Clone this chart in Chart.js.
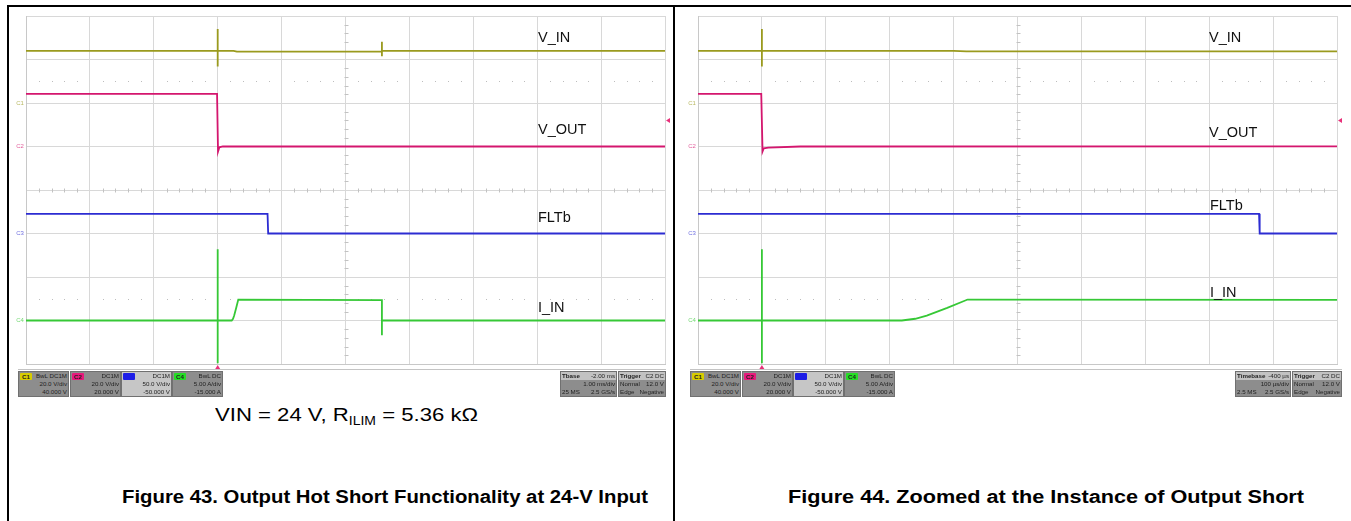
<!DOCTYPE html>
<html><head><meta charset="utf-8">
<script src="https://cdn.jsdelivr.net/npm/chart.js@4/dist/chart.umd.min.js"></script>
<style>
html,body{margin:0;padding:0;background:#fff;}
body{width:1351px;height:521px;position:relative;overflow:hidden;font-family:"Liberation Sans",Arial,sans-serif;}
.frame{position:absolute;background:#000;}
.panel{position:absolute;top:6px;height:394px;}
.sep{position:absolute;height:1px;background:#c4c4c4;top:369px;}
.lbl{position:absolute;font-size:14.5px;line-height:14px;color:#111;white-space:nowrap;}
.box{position:absolute;top:371px;height:26px;background:#8d8d8d;border:1px solid #707070;box-sizing:border-box;font-size:6.2px;color:#1f1f1f;line-height:7.8px;overflow:hidden;}
.box .row{position:relative;height:7.8px;padding:0 1px;white-space:nowrap;}
.box .r{position:absolute;right:1px;}
.box .l{position:absolute;left:1px;}
.box .tag{position:absolute;left:1px;top:0.5px;width:12px;height:7px;font-size:6.2px;line-height:7px;text-align:center;font-weight:bold;border-radius:1px;}
.box .hdr{background:#c2c2c2;}
.cap{position:absolute;white-space:nowrap;transform-origin:0 0;color:#000;}
</style>
</head><body>
<div class="frame" style="left:7px;top:5px;width:1344px;height:2px;"></div>
<div class="frame" style="left:7px;top:5px;width:2px;height:516px;"></div>
<div class="frame" style="left:673px;top:5px;width:2px;height:516px;"></div>

<div class="panel" style="left:8px;width:666px;"><canvas id="c43"></canvas></div>
<div class="panel" style="left:676px;width:675px;"><canvas id="c44"></canvas></div>

<div class="sep" style="left:18px;width:648px;"></div>
<div class="sep" style="left:690px;width:652px;"></div>

<div id="ui"></div>

<script>
// ---------- channel settings ----------
const channels       = ["C1", "C2", "C3", "C4"];
const traceNames     = ["V_IN", "V_OUT", "FLTb", "I_IN"];
const traceColors    = ["#9a9a1e", "#d4166e", "#2c2cd2", "#36c836"];
const tagColors      = ["#d8cc00", "#e8197c", "#1c1ce6", "#25de25"];
const chanCoupling   = ["BwL DC1M", "DC1M", "DC1M", "BwL DC"];
const chanScaleText  = ["20.0 V/div", "20.0 V/div", "50.0 V/div", "5.00 A/div"];
const chanOffsetText = ["40.000 V", "20.000 V", "-50.000 V", "-15.000 A"];
const chanPerDiv     = [20, 20, 50, 5];
const chanOffset     = [40, 20, -50, -15];
const triggerLevel   = 12.0;   // V on C2

// ---------- Figure 43 : time in ms (trigger at 0), 1 ms/div ----------
const f43_tVin  = [-3, 0, 0, 0, 0, 0.25, 0.30, 2.57, 2.57, 2.57, 2.57, 7];
const f43_vin   = [24.0, 24.0, 34.0, 16.8, 24.0, 24.0, 23.6, 23.6, 28.2, 21.5, 24.0, 24.0];
const f43_tVout = [-3, -0.01, 0.005, 0.025, 0.08, 7];
const f43_vout  = [24.2, 24.2, -2.3, -0.4, 0.0, 0.0];
const f43_tFlt  = [-3, 0.78, 0.79, 7];
const f43_flt   = [22.6, 22.6, 0.0, 0.0];
const f43_tIin  = [-3, 0, 0, 0, 0, 0.219, 0.24, 0.258, 0.29, 0.322, 2.57, 2.57, 2.57, 7];
const f43_iin   = [0, 0, 8.2, -4.9, 0, 0, 0.2, 0.57, 1.46, 2.41, 2.35, -1.7, 0, 0];

// ---------- Figure 44 : time in µs (trigger at 0), 100 µs/div ----------
const f44_tVin  = [-100, 0, 0, 0, 0, 300, 320, 900];
const f44_vin   = [24.0, 24.0, 34.0, 16.8, 24.0, 24.0, 23.7, 23.7];
const f44_tVout = [-100, -1, 1, 3, 10, 60, 900];
const f44_vout  = [24.2, 24.2, -2.3, -0.8, -0.5, 0.0, 0.1];
const f44_tFlt  = [-100, 778, 779, 900];
const f44_flt   = [22.6, 22.6, 0.0, 0.0];
const f44_tIin  = [-100, 0, 0, 0, 0, 219, 240, 258, 290, 322, 900];
const f44_iin   = [0, 0, 8.2, -4.9, 0, 0, 0.2, 0.57, 1.46, 2.41, 2.36];

// ---------- timebase / trigger boxes ----------
const f43_timeBox = [["Tbase", "-2.00 ms"], ["", "1.00 ms/div"], ["25 MS", "2.5 GS/s"]];
const f44_timeBox = [["Timebase", "-400 µs"], ["", "100 µs/div"], ["2.5 MS", "2.5 GS/s"]];
const trigBox     = [["Trigger", "C2 DC"], ["Normal", "12.0 V"], ["Edge", "Negative"]];

// ---------- captions ----------
const f43_note    = ["VIN = 24 V, R", "ILIM", " = 5.36 kΩ"];
const f43_caption = "Figure 43. Output Hot Short Functionality at 24-V Input";
const f44_caption = "Figure 44. Zoomed at the Instance of Output Short";

function pts(t, v){ return t.map((x,i)=>({x:x, y:v[i]})); }

const scopeDeco = {
  id:'scopeDeco',
  beforeDatasetsDraw(chart){
    const {ctx, chartArea:a} = chart;
    const ys = chart.scales.y;
    const dw = (a.right-a.left)/10, dh = (a.bottom-a.top)/8;
    const cx = Math.round((a.left+a.right)/2)+0.5, cy = Math.round((a.top+a.bottom)/2)+0.5;
    ctx.save();
    ctx.strokeStyle='#c2c2c2'; ctx.lineWidth=1;
    ctx.beginPath();
    for(let i=1;i<50;i++){ if(i%5===0) continue; const x=Math.round(a.left+i*dw/5)+0.5; ctx.moveTo(x,cy-2); ctx.lineTo(x,cy+2); }
    for(let i=1;i<40;i++){ if(i%5===0) continue; const y=Math.round(a.top+i*dh/5)+0.5; ctx.moveTo(cx-2,y); ctx.lineTo(cx+2,y); }
    ctx.stroke();
    ctx.fillStyle='#bdbdbd';
    for(const d of [2.5,-2.5]){
      const y=Math.round(ys.getPixelForValue(d));
      for(let i=1;i<50;i++){ if(i%5===0) continue; ctx.fillRect(Math.round(a.left+i*dw/5), y, 1, 1); }
    }
    ctx.restore();
  },
  afterDraw(chart){
    const {ctx, chartArea:a} = chart;
    ctx.save();
    // trigger position and level markers
    ctx.fillStyle='#e8307a';
    const tx = chart.scales.x.getPixelForValue(0);
    ctx.beginPath(); ctx.moveTo(tx,a.bottom+1); ctx.lineTo(tx-2.5,a.bottom+5); ctx.lineTo(tx+2.5,a.bottom+5); ctx.closePath(); ctx.fill();
    const ty = chart.scales.c2.getPixelForValue(triggerLevel);
    ctx.beginPath(); ctx.moveTo(a.right+1,ty); ctx.lineTo(a.right+5,ty-2.5); ctx.lineTo(a.right+5,ty+2.5); ctx.closePath(); ctx.fill();
    // channel ground markers
    ctx.font='6px "Liberation Sans", Arial'; ctx.textAlign='center'; ctx.textBaseline='middle';
    channels.forEach((c,i)=>{
      const y = chart.scales['c'+(i+1)].getPixelForValue(0);
      ctx.globalAlpha=0.7; ctx.fillStyle=traceColors[i];
      ctx.fillText(c, a.left-6, y);
    });
    ctx.restore();
  }
};

function makeScope(id, xmin, xmax, xstep, series, pad){
  const scales = {
    x:{type:'linear', min:xmin, max:xmax, ticks:{display:false, stepSize:xstep},
       grid:{color:'#d8d8d8', drawTicks:false}, border:{display:true, color:'#c8c8c8'}},
    y:{type:'linear', min:-4, max:4, ticks:{display:false, stepSize:1},
       grid:{color:'#d8d8d8', drawTicks:false}, border:{display:true, color:'#c8c8c8'}}
  };
  channels.forEach((c,i)=>{
    scales['c'+(i+1)] = {type:'linear', display:false,
      min:-4*chanPerDiv[i]-chanOffset[i], max:4*chanPerDiv[i]-chanOffset[i]};
  });
  return new Chart(document.getElementById(id), {
    type:'line',
    data:{datasets: series.map((s,i)=>({
      label:traceNames[i], data:pts(s[0],s[1]), yAxisID:'c'+(i+1),
      borderColor:traceColors[i], borderWidth:1.8, pointRadius:0, tension:0, fill:false
    }))},
    options:{
      responsive:true, maintainAspectRatio:false, animation:false, devicePixelRatio:1,
      layout:{padding:pad},
      plugins:{legend:{display:false}, tooltip:{enabled:false}},
      events:[],
      scales:scales
    },
    plugins:[scopeDeco]
  });
}

makeScope('c43', -3, 7, 1,
  [[f43_tVin,f43_vin],[f43_tVout,f43_vout],[f43_tFlt,f43_flt],[f43_tIin,f43_iin]],
  {left:18, top:10, right:9, bottom:36});
makeScope('c44', -100, 900, 100,
  [[f44_tVin,f44_vin],[f44_tVout,f44_vout],[f44_tFlt,f44_flt],[f44_tIin,f44_iin]],
  {left:22, top:10, right:14, bottom:36});

// ---------- HTML overlay: trace labels, info boxes, captions ----------
const ui = document.getElementById('ui');
function add(html){ ui.insertAdjacentHTML('beforeend', html); return ui.lastElementChild; }

const labelPos43 = [[538,30],[538,121.5],[538,210],[538,300]];
const labelPos44 = [[1209,30],[1209,125],[1210,197.5],[1210,285]];
traceNames.forEach((n,i)=>{
  add(`<div class="lbl" style="left:${labelPos43[i][0]}px;top:${labelPos43[i][1]}px">${n}</div>`);
  add(`<div class="lbl" style="left:${labelPos44[i][0]}px;top:${labelPos44[i][1]}px">${n}</div>`);
});

function chanBoxes(xs){
  channels.forEach((c,i)=>{
    const bg = i===2 ? '#c6c6c6' : '#8d8d8d';
    add(`<div class="box" style="left:${xs[i]}px;width:51px;background:${bg}">
      <div class="row"><span class="tag" style="background:${tagColors[i]}">${i===2?'':c}</span><span class="r">${chanCoupling[i]}</span></div>
      <div class="row"><span class="r">${chanScaleText[i]}</span></div>
      <div class="row"><span class="r">${chanOffsetText[i]}</span></div></div>`);
  });
}
function infoBox(x,w,rows){
  add(`<div class="box" style="left:${x}px;width:${w}px">` + rows.map((r,k)=>
    `<div class="row${k===0?' hdr':''}"><span class="l"${k===0?' style="font-weight:bold"':''}>${r[0]}</span><span class="r">${r[1]}</span></div>`).join('') + `</div>`);
}
chanBoxes([18,70,121,172]);
chanBoxes([690,742,793,844]);
infoBox(560,57,f43_timeBox); infoBox(618,48,trigBox);
infoBox(1235,56,f44_timeBox); infoBox(1292,50,trigBox);

function fit(el, w){ const ow = el.getBoundingClientRect().width; el.style.transform = `scaleX(${w/ow})`; }
const note = add(`<div class="cap" style="left:215px;top:404px;font-size:19px;line-height:22px">${f43_note[0]}<span style="font-size:12px;vertical-align:-4px">${f43_note[1]}</span>${f43_note[2]}</div>`);
fit(note, 263);
const cap43 = add(`<div class="cap" style="left:122px;top:487px;font-size:18px;line-height:20px;font-weight:bold">${f43_caption}</div>`);
fit(cap43, 526);
const cap44 = add(`<div class="cap" style="left:788px;top:487px;font-size:18px;line-height:20px;font-weight:bold">${f44_caption}</div>`);
fit(cap44, 516);
</script>
</body></html>
